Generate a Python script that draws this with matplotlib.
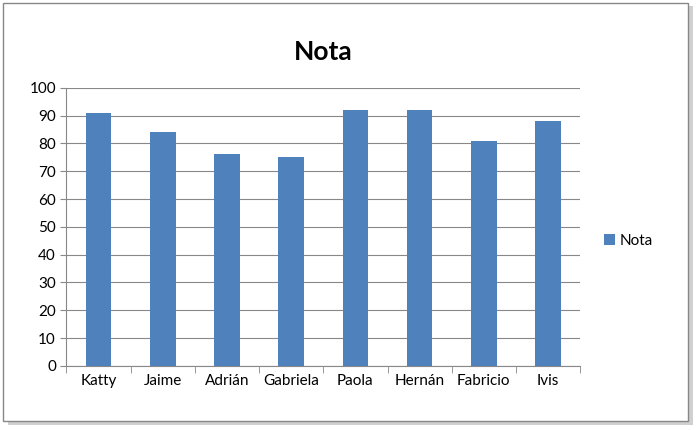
import matplotlib
matplotlib.use('Agg')
import matplotlib.pyplot as plt
from matplotlib.patches import Rectangle

names = ['Katty', 'Jaime', 'Adrián', 'Gabriela', 'Paola', 'Hernán', 'Fabricio', 'Ivis']
nota = [91, 84, 76, 75, 92, 92, 81, 88]

plt.rcParams['font.family'] = ['Lato', 'DejaVu Sans']

fig = plt.figure(figsize=(6.99, 4.30), dpi=100)
# chart frame with a light shadow
fig.patches.append(Rectangle((0.012, 0.012), 0.98, 0.975, transform=fig.transFigure,
                             facecolor='#d0d0d0', edgecolor='none', zorder=-2))
fig.patches.append(Rectangle((0.004, 0.022), 0.98, 0.97, transform=fig.transFigure,
                             facecolor='white', edgecolor='#888888', lw=1, zorder=-1))

ax = fig.add_axes([0.095, 0.149, 0.735, 0.647])
x = range(len(names))
ax.bar(x, nota, width=0.4, color='#4f81bd', label='Nota', zorder=3)
ax.set_xlim(-0.5, len(names) - 0.5)
ax.set_ylim(0, 100)
ax.set_yticks(range(0, 101, 10))
ax.set_xticks(list(x))
ax.set_xticklabels(names, fontsize=11)
ax.tick_params(axis='y', labelsize=11, length=4, color='#888888')
ax.tick_params(axis='x', length=0, pad=6)
ax.set_xticks([i + 0.5 for i in range(-1, len(names))], minor=True)
ax.tick_params(axis='x', which='minor', length=5, color='#888888')
ax.grid(axis='y', color='#888888', lw=0.8, zorder=0)
for s in ['top', 'right']:
    ax.spines[s].set_visible(False)
ax.spines['left'].set_color('#888888')
ax.spines['bottom'].set_color('#888888')
ax.set_title('Nota', fontsize=19, fontweight='bold', pad=20)
ax.legend(loc='center left', bbox_to_anchor=(1.02, 0.45), frameon=False,
          fontsize=11, handlelength=0.7, handleheight=0.7, handletextpad=0.3)

fig.savefig('out.png', dpi=100)
